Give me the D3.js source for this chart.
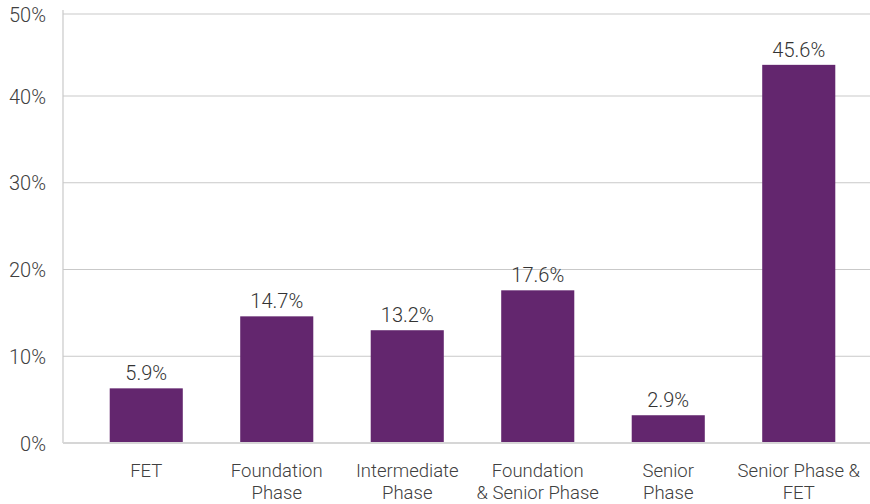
<!DOCTYPE html>
<html>
<head>
<meta charset="utf-8">
<script src="https://cdn.jsdelivr.net/npm/d3@7"></script>
<style>
  html, body { margin: 0; padding: 0; background: #fff; }
  svg { display: block; font-family: Roboto, "Open Sans", sans-serif; }
</style>
</head>
<body>
<svg id="chart" width="870" height="504"></svg>
<script>
const categories = [
  ["FET"],
  ["Foundation", "Phase"],
  ["Intermediate", "Phase"],
  ["Foundation", "& Senior Phase"],
  ["Senior", "Phase"],
  ["Senior Phase &", "FET"]
];
// bar heights as drawn in the picture (percent)
const barValues = [6.3, 14.6, 13.0, 17.6, 3.2, 43.8];
// data labels as printed in the picture
const barLabels = ["5.9%", "14.7%", "13.2%", "17.6%", "2.9%", "45.6%"];
const yTicks = [0, 10, 20, 30, 40, 50];
const yTickLabels = ["0%", "10%", "20%", "30%", "40%", "50%"];

const svg = d3.select("#chart");
const left = 63, right = 870, bottom = 443;

const y = d3.scaleLinear().domain([0, 40, 50]).range([bottom, 96, 14]);
const x = d3.scaleBand().domain(d3.range(categories.length))
  .range([81, 864]).paddingInner(0.44).paddingOuter(0.22);

// gridlines
svg.append("g").selectAll("line")
  .data(yTicks.filter(d => d > 0))
  .join("line")
  .attr("x1", left).attr("x2", right)
  .attr("y1", d => y(d)).attr("y2", d => y(d))
  .attr("stroke", "#c9c9c9").attr("stroke-width", 1.2);

// y axis line
svg.append("line")
  .attr("x1", left).attr("x2", left)
  .attr("y1", 10).attr("y2", bottom)
  .attr("stroke", "#c9c9c9").attr("stroke-width", 1.2);

// y tick labels
svg.append("g").selectAll("text")
  .data(yTicks)
  .join("text")
  .attr("x", 46)
  .attr("y", d => y(d))
  .attr("dy", "0.38em")
  .attr("text-anchor", "end")
  .attr("font-size", 20)
  .attr("font-weight", 300)
  .attr("fill", "#404040")
  .text((d, i) => yTickLabels[i]);

// bars
svg.append("g").selectAll("rect")
  .data(barValues)
  .join("rect")
  .attr("x", (d, i) => x(i))
  .attr("width", x.bandwidth())
  .attr("y", d => y(d))
  .attr("height", d => y(0) - y(d))
  .attr("fill", "#63266E");

// baseline
svg.append("line")
  .attr("x1", left).attr("x2", right)
  .attr("y1", bottom).attr("y2", bottom)
  .attr("stroke", "#d6d6d6").attr("stroke-width", 2);

// data labels
svg.append("g").selectAll("text")
  .data(barValues)
  .join("text")
  .attr("x", (d, i) => x(i) + x.bandwidth() / 2)
  .attr("y", d => y(d) - 8)
  .attr("text-anchor", "middle")
  .attr("font-size", 20)
  .attr("font-weight", 300)
  .attr("fill", "#333")
  .text((d, i) => barLabels[i]);

// category labels
const cat = svg.append("g").selectAll("text")
  .data(categories)
  .join("text")
  .attr("x", (d, i) => x(i) + x.bandwidth() / 2)
  .attr("y", 477)
  .attr("text-anchor", "middle")
  .attr("font-size", 18.5)
  .attr("font-weight", 300)
  .attr("fill", "#404040");
cat.selectAll("tspan")
  .data(d => d)
  .join("tspan")
  .attr("x", function() { return d3.select(this.parentNode).attr("x"); })
  .attr("dy", (d, i) => i === 0 ? 0 : 22)
  .text(d => d);
</script>
</body>
</html>
